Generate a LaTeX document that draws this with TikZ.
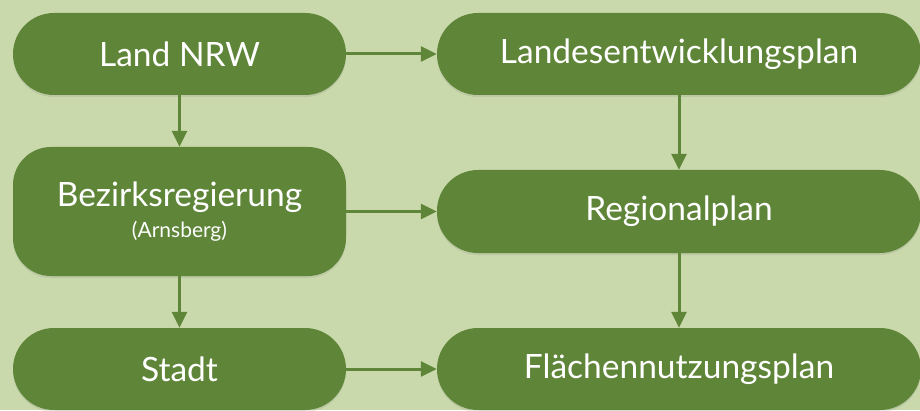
\documentclass[tikz,border=0pt]{standalone}
\usepackage{fontspec}
\setmainfont{Lato}
\usetikzlibrary{arrows.meta,shadows}
\definecolor{bgGreen}{HTML}{C9D9AB}
\definecolor{boxGreen}{HTML}{5E8538}
\begin{document}
\begin{tikzpicture}[x=1pt,y=1pt]

    \tikzset{
      stage/.style={
        fill=boxGreen,
        text=white,
        rounded corners=41pt,
        minimum height=82pt,
        inner sep=0pt,
        align=center,
        font=\fontsize{33.5}{36}\selectfont,
        drop shadow={shadow xshift=0pt,shadow yshift=-2pt,opacity=0.18},
      },
      flow/.style={
        draw=boxGreen,
        line width=3pt,
        -{Triangle[length=16pt,width=15pt]},
      },
    }
    \useasboundingbox (0,0) rectangle (920,410);
	\fill[bgGreen] (0,0) rectangle (920,410);

	\node[stage,minimum width=333pt] (land) at (179.5,356) {Land NRW};
	\node[stage,minimum width=333pt,minimum height=129pt,rounded corners=38pt] (bezirk) at (179.5,198.5) {Bezirksregierung\\[-5pt]{\fontsize{21}{24}\selectfont (Arnsberg)}};
	\node[stage,minimum width=333pt] (stadt) at (179.5,41) {Stadt};
	\node[stage,minimum width=484pt] (lep) at (679,356) {Landesentwicklungsplan};
	\node[stage,minimum width=484pt,minimum height=83pt] (regio) at (679,198.5) {Regionalplan};
	\node[stage,minimum width=484pt] (fnp) at (679,41) {Fl\"achennutzungsplan};

	\draw[flow] (land.east) -- (lep.west);
	\draw[flow] (bezirk.east) -- (regio.west);
	\draw[flow] (stadt.east) -- (fnp.west);
	\draw[flow] (land.south) -- (bezirk.north);
	\draw[flow] (bezirk.south) -- (stadt.north);
	\draw[flow] (lep.south) -- (regio.north);
	\draw[flow] (regio.south) -- (fnp.north);

\end{tikzpicture}
\end{document}
